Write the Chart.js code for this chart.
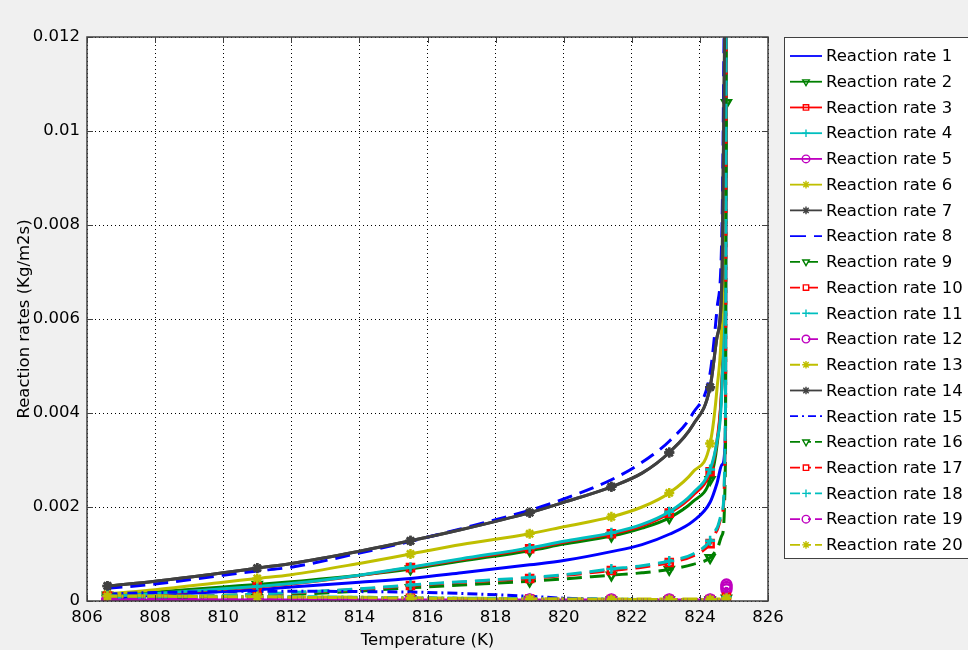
<!DOCTYPE html>
<html>
<head>
<meta charset="utf-8">
<title>Reaction rates</title>
<script src="https://cdn.jsdelivr.net/npm/chart.js@4.4.0/dist/chart.umd.min.js"></script>
<style>
    html, body { margin: 0; padding: 0; background: #f0f0f0; }
    #wrap { width: 968px; height: 650px; position: relative; }
</style>
</head>
<body>
<div id="wrap"><canvas id="rateChart"></canvas></div>
<script>
// ==========================================
// DATA
// ==========================================
const temps = [806.6, 808, 810, 811, 812, 814, 815.5, 817, 819, 820, 821.4, 822.3, 823.1, 823.8, 824.3, 824.5, 824.65, 824.75, 824.78];
const markerIdx = [0, 3, 6, 8, 10, 12, 14, 18];

const rate1 = [0.00005, 0.00012, 0.0002, 0.00024, 0.0003, 0.0004, 0.00048, 0.0006, 0.00077, 0.00086, 0.00105, 0.0012, 0.00142, 0.0017, 0.0021, 0.0025, 0.0029, 0.0035, 0.016];
const rate2 = [0.00012, 0.00019, 0.0003, 0.00035, 0.00041, 0.00055, 0.00068, 0.00085, 0.00107, 0.00121, 0.00138, 0.00155, 0.00177, 0.00212, 0.00258, 0.0033, 0.0047, 0.0075, 0.0106];
const rate3 = [0.0001, 0.00015, 0.00025, 0.0003, 0.00036, 0.00054, 0.00071, 0.00088, 0.00111, 0.00125, 0.00143, 0.0016, 0.00187, 0.00225, 0.00275, 0.0034, 0.0047, 0.0085, 0.016];
const rate4 = [0.0001, 0.00016, 0.00026, 0.00031, 0.00037, 0.00055, 0.00072, 0.0009, 0.00113, 0.00127, 0.00145, 0.00163, 0.0019, 0.0023, 0.0028, 0.0034, 0.0046, 0.009, 0.016];
const rate5 = [0.00002, 0.00002, 0.00002, 0.00002, 0.00002, 0.00002, 0.00002, 0.00002, 0.00002, 0.00002, 0.00002, 0.00002, 0.00002, 0.00002, 0.00002, 0.00002, 0.00002, 0.00003, 0.0003];
const rate6 = [0.00015, 0.00024, 0.0004, 0.00048, 0.00056, 0.0008, 0.001, 0.0012, 0.00143, 0.00158, 0.00179, 0.002, 0.0023, 0.00275, 0.00335, 0.0045, 0.0061, 0.01, 0.016];
const rate7 = [0.00032, 0.00042, 0.0006, 0.0007, 0.0008, 0.00106, 0.00128, 0.00152, 0.00188, 0.0021, 0.00243, 0.00272, 0.00316, 0.00375, 0.00455, 0.0056, 0.0069, 0.014, 0.016];
const rate8 = [0.00027, 0.00036, 0.00055, 0.00064, 0.00072, 0.00102, 0.00127, 0.00154, 0.00193, 0.00217, 0.00258, 0.00295, 0.0034, 0.004, 0.00485, 0.0062, 0.008, 0.015, 0.016];
const rate9 = [0.00004, 0.00006, 0.0001, 0.00012, 0.00014, 0.00021, 0.00028, 0.00034, 0.00042, 0.00047, 0.00055, 0.0006, 0.00067, 0.00078, 0.00092, 0.0011, 0.0014, 0.003, 0.016];
const rate10 = [0.00005, 0.00008, 0.00012, 0.00014, 0.00017, 0.00025, 0.00033, 0.0004, 0.00048, 0.00054, 0.00065, 0.00072, 0.00082, 0.00096, 0.00122, 0.0015, 0.00185, 0.0038, 0.016];
const rate11 = [0.00005, 0.00008, 0.00012, 0.00015, 0.00018, 0.00026, 0.00034, 0.00041, 0.0005, 0.00056, 0.00068, 0.00075, 0.00085, 0.001, 0.00128, 0.00155, 0.0019, 0.004, 0.016];
const rate12 = [0.00002, 0.00002, 0.00002, 0.00002, 0.00002, 0.00002, 0.00002, 0.00002, 0.00002, 0.00002, 0.00002, 0.00002, 0.00002, 0.00002, 0.00002, 0.00002, 0.00002, 0.00003, 0.00025];
const rate13 = [0.00012, 0.00011, 0.0001, 0.0001, 0.00009, 0.00008, 0.00007, 0.00006, 0.00005, 0.00005, 0.00004, 0.00004, 0.00004, 0.00004, 0.00004, 0.00004, 0.00004, 0.00005, 0.00008];
const rate14 = [0.00032, 0.00042, 0.0006, 0.0007, 0.0008, 0.00106, 0.00128, 0.00152, 0.00188, 0.0021, 0.00243, 0.00272, 0.00316, 0.00375, 0.00455, 0.0056, 0.0069, 0.014, 0.016];
const rate15 = [0.00015, 0.00018, 0.0002, 0.00021, 0.00021, 0.0002, 0.00019, 0.00016, 0.0001, 0.00006, 0.00003, 0.00002, 0.00002, 0.00001, 0.00001, 0.00001, 0.00001, 0.00001, 0.00001];
const rate16 = [0.00008, 0.00008, 0.00007, 0.00007, 0.00006, 0.00005, 0.00005, 0.00004, 0.00003, 0.00003, 0.00002, 0.00002, 0.00002, 0.00002, 0.00002, 0.00002, 0.00002, 0.00003, 0.00006];
const rate17 = [0.0001, 0.0001, 0.00009, 0.00009, 0.00008, 0.00007, 0.00006, 0.00005, 0.00004, 0.00004, 0.00003, 0.00003, 0.00003, 0.00003, 0.00003, 0.00003, 0.00003, 0.00004, 0.00008];
const rate18 = [0.00011, 0.0001, 0.0001, 0.00009, 0.00009, 0.00008, 0.00007, 0.00006, 0.00005, 0.00004, 0.00004, 0.00003, 0.00003, 0.00003, 0.00003, 0.00003, 0.00003, 0.00004, 0.00008];
const rate19 = [0.00003, 0.00003, 0.00003, 0.00003, 0.00003, 0.00003, 0.00003, 0.00003, 0.00003, 0.00003, 0.00003, 0.00003, 0.00003, 0.00003, 0.00003, 0.00003, 0.00003, 0.00004, 0.00035];
const rate20 = [0.0001, 0.0001, 0.00009, 0.00009, 0.00008, 0.00007, 0.00006, 0.00005, 0.00004, 0.00004, 0.00003, 0.00003, 0.00003, 0.00003, 0.00003, 0.00003, 0.00003, 0.00004, 0.00006];

const rates = [rate1, rate2, rate3, rate4, rate5, rate6, rate7, rate8, rate9, rate10,
               rate11, rate12, rate13, rate14, rate15, rate16, rate17, rate18, rate19, rate20];
const seriesNames = rates.map((r, i) => 'Reaction rate ' + (i + 1));

const xMin = 806, xMax = 826, xStep = 2;
const yMin = 0, yMax = 0.012, yStep = 0.002;

// ==========================================
// STYLES
// ==========================================
const BLUE = '#0000ff', GREEN = '#008000', RED = '#ff0000', CYAN = '#00bfbf',
      MAGENTA = '#bf00bf', YELLOW = '#bfbf00', GRAY = '#404040';
const colors = [BLUE, GREEN, RED, CYAN, MAGENTA, YELLOW, GRAY,
                BLUE, GREEN, RED, CYAN, MAGENTA, YELLOW, GRAY,
                BLUE, GREEN, RED, CYAN, MAGENTA, YELLOW];
const markers = [false, 'triangle', 'rect', 'cross', 'circle', 'star', 'star',
                 false, 'triangle', 'rect', 'cross', 'circle', 'star', 'star',
                 false, 'triangle', 'rect', 'cross', 'circle', 'star'];
const SOLID = [], DASH = [15, 8], DASHDOT = [10, 4, 2, 4];
const dashes = [SOLID, SOLID, SOLID, SOLID, SOLID, SOLID, SOLID,
                DASH, DASH, DASH, DASH, DASH, DASH, SOLID,
                DASHDOT, DASHDOT, DASHDOT, DASHDOT, DASHDOT, DASHDOT];
const legendDashes = [SOLID, SOLID, SOLID, SOLID, SOLID, SOLID, SOLID,
                      [16, 8], [10, 8], [10, 8], [10, 8], [10, 8], [10, 8], SOLID,
                      [8, 4, 2, 4], [10, 8, 3, 4], [10, 8, 3, 4], [10, 8, 3, 4], [10, 8, 3, 4], [10, 8, 3, 4]];

const FONT = '"DejaVu Sans", sans-serif';
const FONT_SIZE = 16.5;

const datasets = rates.map((vals, i) => ({
    label: seriesNames[i],
    data: vals.map((v, k) => ({ x: temps[k], y: v })),
    borderColor: colors[i],
    borderWidth: 3,
    borderDash: dashes[i],
    pointStyle: markers[i],
    rotation: markers[i] === 'triangle' ? 180 : 0,
    pointRadius: temps.map((t, k) => (markers[i] && markerIdx.includes(k)) ? 5 : 0),
    pointBorderColor: colors[i],
    pointBackgroundColor: i === 6 || i === 13 ? GRAY : 'rgba(0,0,0,0)',
    pointBorderWidth: 2.5,
    cubicInterpolationMode: 'monotone',
    fill: false,
    order: 20 - i
}));

// ==========================================
// PLUGIN: background, frame, legend
// ==========================================
const framePlugin = {
    id: 'framePlugin',
    beforeDraw(chart) {
        const { ctx, chartArea: a } = chart;
        ctx.save();
        ctx.fillStyle = '#ffffff';
        ctx.fillRect(a.left, a.top, a.right - a.left, a.bottom - a.top);
        ctx.restore();
    },
    afterDraw(chart) {
        const { ctx, chartArea: a } = chart;
        const xs = chart.scales.x, ys = chart.scales.y;
        ctx.save();
        ctx.strokeStyle = '#404040';
        ctx.lineWidth = 1.5;
        ctx.strokeRect(a.left, a.top, a.right - a.left, a.bottom - a.top);

        // inward tick marks
        ctx.lineWidth = 1;
        ctx.beginPath();
        xs.ticks.forEach(t => {
            const px = Math.round(xs.getPixelForValue(t.value)) + 0.5;
            ctx.moveTo(px, a.bottom); ctx.lineTo(px, a.bottom - 6);
            ctx.moveTo(px, a.top); ctx.lineTo(px, a.top + 6);
        });
        ys.ticks.forEach(t => {
            const py = Math.round(ys.getPixelForValue(t.value)) + 0.5;
            ctx.moveTo(a.left, py); ctx.lineTo(a.left + 6, py);
            ctx.moveTo(a.right, py); ctx.lineTo(a.right - 6, py);
        });
        ctx.stroke();

        // legend box
        const bx = 784, by = 37, bw = 200, bh = 521;
        ctx.fillStyle = '#ffffff';
        ctx.fillRect(bx, by, bw, bh);
        ctx.strokeStyle = '#404040';
        ctx.lineWidth = 1;
        ctx.strokeRect(bx + 0.5, by + 0.5, bw, bh);

        ctx.font = FONT_SIZE + 'px ' + FONT;
        ctx.textBaseline = 'middle';
        ctx.textAlign = 'left';
        chart.data.datasets.forEach((ds, i) => {
            const y = 56 + i * 25.73;
            ctx.strokeStyle = colors[i];
            ctx.lineWidth = 1.8;
            ctx.setLineDash(legendDashes[i]);
            ctx.beginPath();
            ctx.moveTo(790, y); ctx.lineTo(822, y);
            ctx.stroke();
            ctx.setLineDash([]);
            if (markers[i]) {
                ctx.fillStyle = (i === 6 || i === 13) ? GRAY : 'rgba(0,0,0,0)';
                ctx.lineWidth = 1.4;
                Chart.helpers.drawPoint(ctx, {
                    pointStyle: markers[i],
                    rotation: markers[i] === 'triangle' ? 180 : 0,
                    radius: 3.8,
                    borderWidth: 1.4
                }, 806, y);
            }
            ctx.fillStyle = '#000';
            ctx.fillText(ds.label, 826, y + 1);
        });
        ctx.restore();
    }
};

// ==========================================
// CHART
// ==========================================
new Chart(document.getElementById('rateChart'), {
    type: 'line',
    data: { datasets },
    options: {
        responsive: true,
        maintainAspectRatio: false,
        animation: false,
        layout: { padding: { left: 0, right: 200, top: 37, bottom: 0 } },
        plugins: { legend: { display: false }, tooltip: { enabled: false } },
        scales: {
            x: {
                type: 'linear',
                min: xMin, max: xMax,
                afterFit: s => { s.height = 49; },
                ticks: { stepSize: xStep, color: '#000', padding: 7, font: { family: FONT, size: FONT_SIZE } },
                grid: { color: '#000', lineWidth: 1, drawTicks: false },
                border: { display: false, dash: [1, 3] },
                title: { display: true, text: 'Temperature (K)', color: '#000', font: { family: FONT, size: FONT_SIZE }, padding: { top: 0, bottom: -1 } }
            },
            y: {
                type: 'linear',
                min: yMin, max: yMax,
                afterFit: s => { s.width = 87; },
                ticks: {
                    stepSize: yStep, color: '#000', padding: 7, font: { family: FONT, size: FONT_SIZE },
                    callback: v => String(parseFloat(v.toFixed(4)))
                },
                grid: { color: '#000', lineWidth: 1, drawTicks: false },
                border: { display: false, dash: [1, 3] },
                title: { display: true, text: 'Reaction rates (Kg/m2s)', color: '#000', font: { family: FONT, size: FONT_SIZE }, padding: { top: 15, bottom: 0 } }
            }
        }
    },
    plugins: [framePlugin]
});
</script>
</body>
</html>
